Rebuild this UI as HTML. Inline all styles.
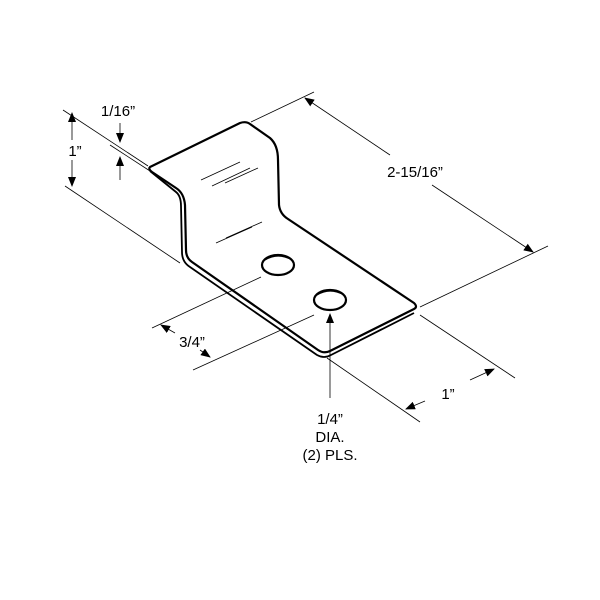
<!DOCTYPE html>
<html><head><style>body{margin:0;background:#fff}svg{display:block}</style></head><body>
<svg width="600" height="600" viewBox="0 0 600 600" xmlns="http://www.w3.org/2000/svg" font-family="Liberation Sans, sans-serif" font-size="15">
<defs><marker id="a" markerWidth="10" markerHeight="8" refX="9" refY="4" orient="auto" markerUnits="userSpaceOnUse"><path d="M0,0 L10,4 L0,8z" fill="#000"/></marker></defs>
<g fill="none" stroke="#000" stroke-width="2.2" stroke-linejoin="round">
<path d="M150,167 L240,123 Q246,121 250,124 L270,138 Q278,145 278,160 L279,205 Q280,214 288,219 L414,303 Q418,307 414,309 L330,351 Q324,354 318,350 L192,262 Q186,258 186,250 L185,205 Q184,193 176,188 L152,172 Q148,169 150,167Z"/>
<path d="M150,171 L176,192 Q181,196 181,206 L182,252 Q182,262 190,267 L317,355 Q324,359 331,355 L414,313" stroke-width="1.8"/>
<ellipse cx="278" cy="265" rx="16" ry="10"/>
<ellipse cx="330" cy="300" rx="16" ry="10"/>
<path d="M265,260 Q278,252 292,260" stroke-width="1.2"/>
<path d="M317,295 Q330,287 344,295" stroke-width="1.2"/>
</g>
<g stroke="#000" stroke-width="0.8" fill="none">
<path d="M201,180 L240,162 M212,186 L250,168 M225,183 L258,168"/>
<path d="M216,243 L252,227 M226,238 L262,222"/>
<path d="M251,122 L314,92"/>
<path d="M420,307 L548,246"/>
<path d="M390,155 L305,98" marker-end="url(#a)"/>
<path d="M432,185 L533,252" marker-end="url(#a)"/>
<path d="M148,166 L63,110"/>
<path d="M180,263 L65,186"/>
<path d="M72,140 L72,113" marker-end="url(#a)"/>
<path d="M72,160 L72,186" marker-end="url(#a)"/>
<path d="M110,145 L150,171"/>
<path d="M120,123 L120,142" marker-end="url(#a)"/>
<path d="M120,180 L120,157" marker-end="url(#a)"/>
<path d="M261,277 L152,328"/>
<path d="M314,315 L193,370"/>
<path d="M175,333 L161,325" marker-end="url(#a)"/>
<path d="M200,350 L210,357" marker-end="url(#a)"/>
<path d="M420,315 L515,378"/>
<path d="M327,358 L420,422"/>
<path d="M425,401 L406,409" marker-end="url(#a)"/>
<path d="M470,380 L494,369" marker-end="url(#a)"/>
<path d="M330,398 L330,314" marker-end="url(#a)"/>
</g>
<g fill="#000" text-anchor="middle">
<text x="118" y="116">1/16”</text>
<text x="75" y="156">1”</text>
<text x="415" y="177">2-15/16”</text>
<text x="192" y="347">3/4”</text>
<text x="448" y="399">1”</text>
<text x="330" y="424">1/4”</text>
<text x="330" y="442">DIA.</text>
<text x="330" y="460">(2) PLS.</text>
</g>
</svg>
</body></html>
